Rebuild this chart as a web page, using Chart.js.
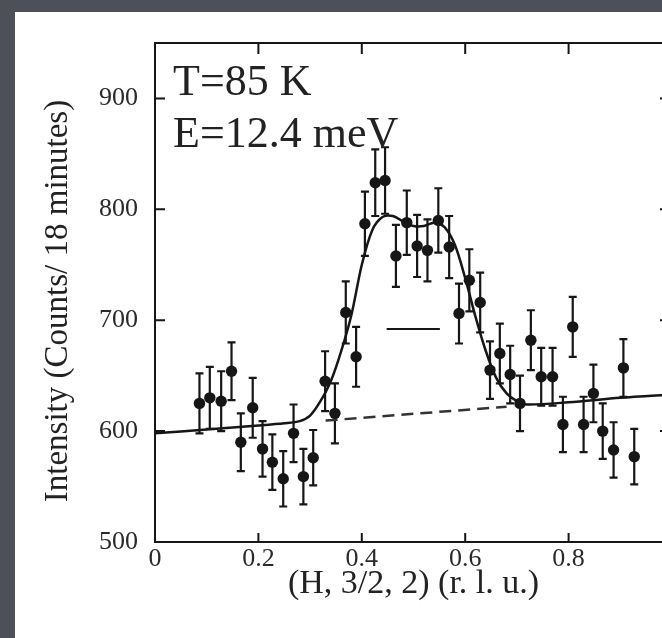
<!DOCTYPE html>
<html>
<head>
<meta charset="utf-8">
<script src="https://cdn.jsdelivr.net/npm/chart.js@4.4.1/dist/chart.umd.min.js"></script>
<style>
html, body { margin: 0; padding: 0; width: 662px; height: 638px; overflow: hidden; background: #4d5058; }
#panel { position: absolute; left: 15px; top: 12px; width: 700px; height: 700px; background: #fff; }
#wrap { position: absolute; left: 0; top: 0; width: 700px; height: 638px; }
</style>
</head>
<body>
<div id="panel"></div>
<div id="wrap"><canvas id="scan" width="700" height="638"></canvas></div>
<script>
var hValues = [0.086, 0.106, 0.128, 0.148, 0.166, 0.189, 0.208, 0.227, 0.248, 0.268,
               0.287, 0.306, 0.329, 0.348, 0.369, 0.389, 0.406, 0.426, 0.445, 0.466,
               0.487, 0.507, 0.527, 0.548, 0.569, 0.588, 0.608, 0.629, 0.648, 0.667,
               0.687, 0.706, 0.727, 0.747, 0.769, 0.789, 0.808, 0.829, 0.848, 0.866,
               0.887, 0.906, 0.927];
var counts = [625, 630, 627, 654, 590, 621, 584, 572, 557, 598,
              559, 576, 645, 616, 707, 667, 787, 824, 826, 758,
              788, 767, 763, 790, 766, 706, 736, 716, 655, 670,
              651, 625, 682, 649, 649, 606, 694, 606, 634, 600,
              583, 657, 577];
var countErr = [27, 28, 27, 26, 26, 27, 25, 25, 25, 26,
                25, 25, 27, 27, 28, 27, 29, 30, 30, 28,
                29, 28, 28, 29, 28, 27, 28, 27, 26, 27,
                26, 25, 27, 26, 26, 25, 27, 25, 26, 25,
                25, 26, 25];

// fit curve (solid) as traced
var fitH = [0, 0.1, 0.2, 0.25, 0.28, 0.3, 0.32, 0.34, 0.36, 0.38, 0.40, 0.42, 0.44, 0.46,
            0.48, 0.50, 0.52, 0.54, 0.56, 0.58, 0.60, 0.62, 0.64, 0.66, 0.68, 0.70, 0.72,
            0.8, 0.9, 1.0];
var fitCounts = [598, 601.5, 605, 607, 609, 614, 627, 645, 672, 705, 750, 781, 793, 794,
                 789, 785, 785, 788, 784, 768, 738, 703, 672, 648, 634, 627, 624,
                 626, 630, 633];

// linear background (dashed)
var bgH = [0.33, 0.68];
var bgCounts = [609.5, 622];

// resolution bar
var resH = [0.448, 0.551];
var resCounts = [692, 692];

var xTicks = [0, 0.2, 0.4, 0.6, 0.8];
var yTicks = [500, 600, 700, 800, 900];

var ink = '#161616';
var serif = '"Liberation Serif", "Times New Roman", serif';

function pairs(xs, ys) {
  return xs.map(function (x, i) { return { x: x, y: ys[i] }; });
}

var errorBars = {
  id: 'errorBars',
  beforeDatasetsDraw: function (chart) {
    var ctx = chart.ctx, xs = chart.scales.x, ys = chart.scales.y;
    ctx.save();
    ctx.strokeStyle = ink;
    ctx.lineWidth = 2.2;
    hValues.forEach(function (h, i) {
      var px = xs.getPixelForValue(h);
      var top = ys.getPixelForValue(counts[i] + countErr[i]);
      var bot = ys.getPixelForValue(counts[i] - countErr[i]);
      ctx.beginPath();
      ctx.moveTo(px, top); ctx.lineTo(px, bot);
      ctx.moveTo(px - 4, top); ctx.lineTo(px + 4, top);
      ctx.moveTo(px - 4, bot); ctx.lineTo(px + 4, bot);
      ctx.stroke();
    });
    ctx.restore();
  }
};

var frame = {
  id: 'frame',
  afterDraw: function (chart) {
    var ctx = chart.ctx, a = chart.chartArea, xs = chart.scales.x, ys = chart.scales.y;
    ctx.save();
    ctx.strokeStyle = ink;
    ctx.lineWidth = 2;
    ctx.strokeRect(a.left, a.top, a.right - a.left, a.bottom - a.top);
    ctx.beginPath();
    xTicks.forEach(function (v) {
      if (v === 0) return;
      var px = xs.getPixelForValue(v);
      ctx.moveTo(px, a.bottom); ctx.lineTo(px, a.bottom - 9);
      ctx.moveTo(px, a.top); ctx.lineTo(px, a.top + 11);
    });
    yTicks.forEach(function (v) {
      var py = ys.getPixelForValue(v);
      ctx.moveTo(a.left, py); ctx.lineTo(a.left + 10, py);
      ctx.moveTo(a.right, py); ctx.lineTo(a.right - 12, py);
    });
    ctx.stroke();

    ctx.fillStyle = '#222';
    ctx.font = '44px ' + serif;
    ctx.textBaseline = 'alphabetic';
    ctx.fillText('T=85 K', a.left + 18, a.top + 52);
    ctx.fillText('E=12.4 meV', a.left + 18, a.top + 104);

    // y axis title, placed as in the scan
    ctx.translate(58, 301);
    ctx.rotate(-Math.PI / 2);
    ctx.textAlign = 'center';
    ctx.textBaseline = 'middle';
    ctx.font = '33px ' + serif;
    ctx.fillText('Intensity (Counts/ 18 minutes)', 0, 0);
    ctx.restore();
  }
};

new Chart(document.getElementById('scan'), {
  type: 'scatter',
  data: {
    datasets: [
      {
        label: 'data',
        data: pairs(hValues, counts),
        pointRadius: 5.7,
        pointBackgroundColor: ink,
        pointBorderWidth: 0,
        showLine: false
      },
      {
        label: 'fit',
        data: pairs(fitH, fitCounts),
        showLine: true,
        pointRadius: 0,
        borderColor: ink,
        borderWidth: 2.5,
        tension: 0.3
      },
      {
        label: 'background',
        data: pairs(bgH, bgCounts),
        showLine: true,
        pointRadius: 0,
        borderColor: '#333',
        borderWidth: 2.5,
        borderDash: [12, 7]
      },
      {
        label: 'resolution',
        data: pairs(resH, resCounts),
        showLine: true,
        pointRadius: 0,
        borderColor: ink,
        borderWidth: 2
      }
    ]
  },
  options: {
    responsive: false,
    animation: false,
    layout: { padding: { left: 0, top: 43, right: 28, bottom: 0 } },
    plugins: {
      legend: { display: false },
      tooltip: { enabled: false }
    },
    scales: {
      x: {
        type: 'linear',
        min: 0,
        max: 1,
        afterBuildTicks: function (s) { s.ticks = xTicks.map(function (v) { return { value: v }; }); },
        afterFit: function (s) { s.height = 96; },
        grid: { display: false, drawTicks: false },
        border: { display: false },
        ticks: {
          color: '#2a2a2a',
          padding: 2,
          font: { family: serif, size: 26 },
          callback: function (v) { return v === 0 ? '0' : v.toFixed(1); }
        },
        title: {
          display: true,
          text: '(H, 3/2, 2) (r. l. u.)',
          color: '#222',
          font: { family: serif, size: 34, lineHeight: 1.2 },
          padding: { top: 0, bottom: 34 }
        }
      },
      y: {
        min: 500,
        max: 950,
        afterBuildTicks: function (s) { s.ticks = yTicks.map(function (v) { return { value: v }; }); },
        afterFit: function (s) { s.width = 155; },
        grid: { display: false, drawTicks: false },
        border: { display: false },
        ticks: {
          color: '#2a2a2a',
          padding: 17,
          font: { family: serif, size: 26 }
        },
        title: { display: false }
      }
    }
  },
  plugins: [errorBars, frame]
});
</script>
</body>
</html>
